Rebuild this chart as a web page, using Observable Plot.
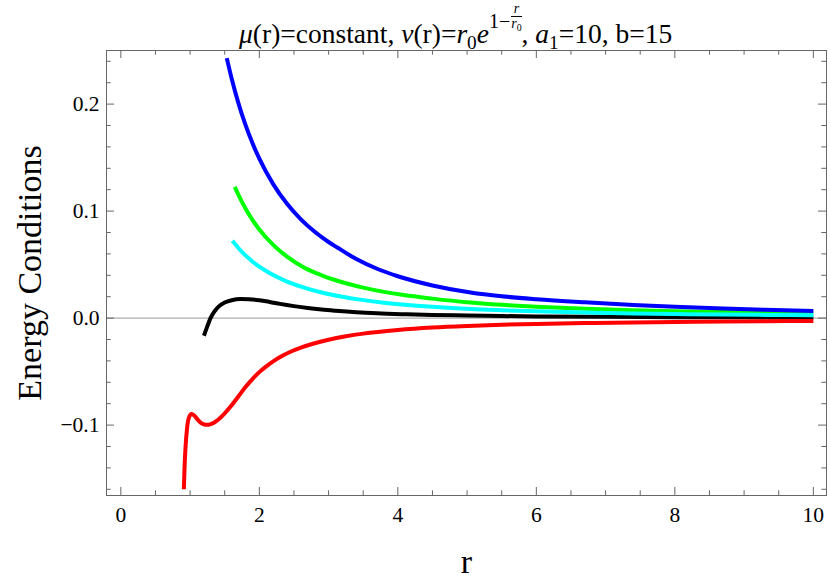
<!DOCTYPE html>
<html><head><meta charset="utf-8">
<script src="https://cdn.jsdelivr.net/npm/d3@7"></script>
<script src="https://cdn.jsdelivr.net/npm/@observablehq/plot@0.6"></script>
<style>
body{margin:0;background:#fff;}
#wrap{position:relative;width:830px;height:581px;}
#title{position:absolute;left:239px;top:4px;font-family:"Liberation Serif",serif;font-size:27.5px;line-height:60px;white-space:nowrap;color:#000;z-index:2;}
#title sub{font-size:0.7em;vertical-align:baseline;position:relative;top:0.3em;}
#title .sup{position:relative;top:-15px;font-size:20px;}
#title .frac{display:inline-block;vertical-align:baseline;text-align:center;font-size:14px;line-height:14px;margin-left:1px;}
#title .frac span.n{display:block;border-bottom:1px solid #000;padding:0 1px;}
#title .frac span.d{display:block;}
</style></head><body>
<div id="wrap">
<div id="title"><i>μ</i>(r)=constant, <i>ν</i>(r)=<i>r</i><sub>0</sub><i>e</i><span class="sup">1−<span class="frac"><span class="n"><i>r</i></span><span class="d"><i>r</i><sub>0</sub></span></span></span>, <i>a</i><sub>1</sub>=10, b=15</div>
<div id="chart"></div>
</div>
<script>
// tick values
const xMajor = [0, 2, 4, 6, 8, 10];
const xMinor = [0.5, 1, 1.5, 2.5, 3, 3.5, 4.5, 5, 5.5, 6.5, 7, 7.5, 8.5, 9, 9.5];
const yMajor = [-0.1, 0, 0.1, 0.2];
const yMinor = [-0.16, -0.14, -0.12, -0.08, -0.06, -0.04, -0.02, 0.02, 0.04, 0.06, 0.08, 0.12, 0.14, 0.16, 0.18, 0.22, 0.24];

// series (r, value)
const rBlue = [1.53, 1.6, 1.7, 1.8, 1.9, 2.0, 2.2, 2.4, 2.6, 2.8, 3.0, 3.125, 3.4, 3.7, 4.0, 4.5, 5.05, 5.5, 6.0, 6.7, 7.4, 8.0, 8.7, 9.3, 10];
const vBlue = [0.243, 0.224, 0.2005, 0.1806, 0.1637, 0.149, 0.1252, 0.1068, 0.0923, 0.0807, 0.0711, 0.066, 0.0552, 0.0461, 0.0391, 0.0305, 0.0239, 0.0204, 0.0177, 0.0148, 0.0123, 0.0106, 0.0090, 0.0078, 0.0067];

const rGreen = [1.645, 1.7, 1.8, 1.9, 2.0, 2.2, 2.4, 2.643, 2.9, 3.2, 3.5, 3.8, 4.087, 4.5, 5.0, 5.5, 6.0, 6.7, 7.4, 8.0, 8.7, 9.3, 10];
const vGreen = [0.1227, 0.1149, 0.1024, 0.0918, 0.0828, 0.0684, 0.0574, 0.0473, 0.0400, 0.0335, 0.0285, 0.0245, 0.0215, 0.0182, 0.0148, 0.0124, 0.0106, 0.0087, 0.0073, 0.0064, 0.0057, 0.0051, 0.0047];

const rCyan = [1.611, 1.7, 1.8, 1.9, 2.0, 2.2, 2.4, 2.6, 2.9, 3.2, 3.5, 3.8, 4.1, 4.5, 5.05, 5.5, 6.0, 6.7, 7.4, 8.0, 8.7, 9.3, 10];
const vCyan = [0.0722, 0.0653, 0.0586, 0.0529, 0.0481, 0.0402, 0.0341, 0.0294, 0.0239, 0.0199, 0.0168, 0.0144, 0.0125, 0.0105, 0.0084, 0.0073, 0.0063, 0.0052, 0.0044, 0.0038, 0.0033, 0.0030, 0.0026];

const rBlack = [1.2, 1.25, 1.295, 1.35, 1.415, 1.5, 1.6, 1.73, 1.85, 2.0, 2.15, 2.3, 2.5, 2.7, 2.9, 3.1, 3.4, 3.7, 4.1, 4.5, 5.0, 5.5, 6.0, 7, 8, 9, 10];
const vBlack = [-0.0165, -0.0075, 0.0, 0.006, 0.0110, 0.0145, 0.0167, 0.0178, 0.0176, 0.0167, 0.0151, 0.0133, 0.0112, 0.0094, 0.0080, 0.0069, 0.0055, 0.0045, 0.0036, 0.0029, 0.0024, 0.0019, 0.0016, 0.0012, 0.0009, 0.0007, 0.0005];

const rRed = [0.91, 0.915, 0.92, 0.934, 0.958, 0.983, 1.021, 1.06, 1.103, 1.17, 1.238, 1.3, 1.35, 1.4, 1.5, 1.6, 1.7, 1.8, 1.9, 2.0, 2.1, 2.2, 2.3, 2.45, 2.6, 2.8, 3.0, 3.25, 3.5, 4.0, 4.5, 5.0, 5.5, 6.0, 6.7, 7.4, 8.0, 8.7, 9.3, 10];
const vRed = [-0.160, -0.150, -0.1396, -0.121, -0.102, -0.093, -0.0897, -0.0910, -0.0944, -0.0985, -0.0997, -0.0990, -0.0975, -0.0952, -0.0890, -0.0815, -0.0730, -0.0645, -0.0570, -0.0505, -0.0451, -0.0404, -0.0364, -0.0315, -0.0276, -0.0235, -0.0202, -0.0170, -0.0145, -0.0111, -0.0088, -0.0073, -0.0062, -0.0054, -0.0046, -0.0040, -0.0036, -0.0032, -0.0029, -0.0026];

const series = [
  {name: "green", color: "#00ff00", r: rGreen, v: vGreen},
  {name: "black", color: "#000000", r: rBlack, v: vBlack},
  {name: "cyan", color: "#00ffff", r: rCyan, v: vCyan},
  {name: "blue", color: "#0000ff", r: rBlue, v: vBlue},
  {name: "red", color: "#ff0000", r: rRed, v: vRed}
];

const W = 830, H = 581, mT = 50, mB = 86, mL = 106, mR = 4;
const innerH = H - mT - mB, innerW = W - mL - mR;
const majorLen = 8, minorLen = 4.7;
const frameColor = "#666";

const lineMarks = series.map(s =>
  Plot.line(s.r.map((r, i) => ({r, v: s.v[i]})), {
    x: "r", y: "v", stroke: s.color, strokeWidth: 4, curve: "monotone-x", strokeLinecap: "butt"
  })
);

const tickMarks = [];
for (const [vals, len] of [[xMajor, majorLen], [xMinor, minorLen]]) {
  tickMarks.push(Plot.tickX(vals, {x: d => d, stroke: frameColor, insetTop: innerH - len}));
  tickMarks.push(Plot.tickX(vals, {x: d => d, stroke: frameColor, insetBottom: innerH - len}));
}
for (const [vals, len] of [[yMajor, majorLen], [yMinor, minorLen]]) {
  tickMarks.push(Plot.tickY(vals, {y: d => d, stroke: frameColor, insetRight: innerW - len}));
  tickMarks.push(Plot.tickY(vals, {y: d => d, stroke: frameColor, insetLeft: innerW - len}));
}

const chart = Plot.plot({
  width: W, height: H,
  marginTop: mT, marginBottom: mB, marginLeft: mL, marginRight: mR,
  x: {domain: [-0.207, 10.19]},
  y: {domain: [-0.1658, 0.2501]},
  style: {fontFamily: "'Liberation Serif', 'Times New Roman', serif", fontSize: "21.5px", background: "white", color: "black"},
  marks: [
    Plot.ruleY([0], {stroke: "#999", strokeWidth: 1}),
    ...lineMarks,
    Plot.frame({stroke: frameColor}),
    ...tickMarks,
    Plot.axisX({ticks: xMajor, tickSize: 0, tickPadding: 11, tickFormat: d3.format("d"), label: null, fontSize: 21.5}),
    Plot.axisY({ticks: yMajor, tickSize: 0, tickPadding: 7, tickFormat: d3.format(".1f"), label: null, fontSize: 21.5}),
    Plot.text(["Energy Conditions"], {frameAnchor: "left", textAnchor: "middle", lineAnchor: "middle", rotate: -90, dx: -76, fontSize: 34, fill: "black"}),
    Plot.text(["r"], {frameAnchor: "bottom", textAnchor: "middle", lineAnchor: "middle", dy: 67, fontSize: 34, fill: "black"})
  ]
});
document.getElementById("chart").appendChild(chart);
</script>
</body></html>
